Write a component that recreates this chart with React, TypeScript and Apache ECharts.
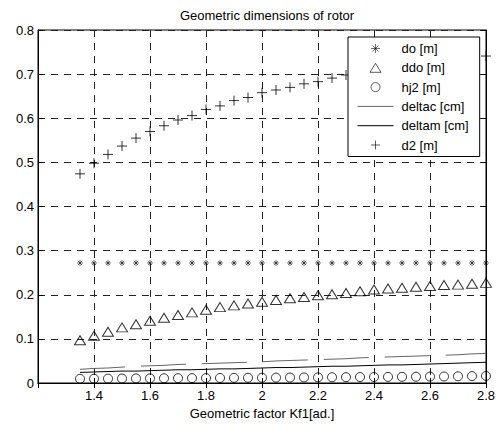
import React, { useEffect, useRef } from "react";
import * as echarts from "echarts";

// Geometric factor Kf1 [ad.] at each computed point
const kf1 = [
  1.35, 1.4, 1.45, 1.5, 1.55, 1.6, 1.65, 1.7, 1.75, 1.8,
  1.85, 1.9, 1.95, 2.0, 2.05, 2.1, 2.15, 2.2, 2.25, 2.3,
  2.35, 2.4, 2.45, 2.5, 2.55, 2.6, 2.65, 2.7, 2.75, 2.8,
];

const doM = [
  0.272, 0.272, 0.272, 0.272, 0.272, 0.272, 0.272, 0.272, 0.272, 0.272,
  0.272, 0.272, 0.272, 0.272, 0.272, 0.272, 0.272, 0.272, 0.272, 0.272,
  0.272, 0.272, 0.272, 0.272, 0.272, 0.272, 0.272, 0.272, 0.272, 0.272,
];

const ddoM = [
  0.097, 0.107, 0.116, 0.126, 0.133, 0.141, 0.148, 0.154, 0.16, 0.166,
  0.172, 0.176, 0.18, 0.184, 0.188, 0.192, 0.195, 0.199, 0.201, 0.204,
  0.208, 0.212, 0.214, 0.216, 0.218, 0.22, 0.222, 0.223, 0.225, 0.227,
];

const hj2M = [
  0.0095, 0.0097, 0.0099, 0.0101, 0.0103, 0.0105, 0.0107, 0.0109, 0.011, 0.0112,
  0.0114, 0.0116, 0.0118, 0.012, 0.0122, 0.0124, 0.0126, 0.0128, 0.013, 0.0132,
  0.0134, 0.0136, 0.0138, 0.014, 0.0142, 0.0145, 0.0148, 0.0152, 0.0156, 0.016,
];

const deltacCm = [
  0.031, 0.033, 0.034, 0.036, 0.038, 0.039, 0.04, 0.042, 0.043, 0.044,
  0.045, 0.046, 0.047, 0.048, 0.05, 0.051, 0.052, 0.053, 0.054, 0.055,
  0.057, 0.058, 0.059, 0.06, 0.061, 0.062, 0.063, 0.064, 0.066, 0.067,
];

const deltamCm = [
  0.024, 0.025, 0.026, 0.027, 0.027, 0.028, 0.029, 0.03, 0.03, 0.031,
  0.032, 0.032, 0.033, 0.034, 0.035, 0.035, 0.036, 0.037, 0.038, 0.038,
  0.039, 0.04, 0.041, 0.041, 0.042, 0.043, 0.044, 0.045, 0.046, 0.047,
];

const d2M = [
  0.474, 0.498, 0.518, 0.537, 0.555, 0.57, 0.583, 0.596, 0.606, 0.62,
  0.628, 0.64, 0.647, 0.658, 0.664, 0.67, 0.678, 0.683, 0.691, 0.698,
  0.704, 0.709, 0.714, 0.719, 0.723, 0.727, 0.731, 0.734, 0.738, 0.741,
];

const FONT = "Liberation Sans";
const ASTERISK = "path://M5,0L5,10M0,5L10,5M1.6,1.6L8.4,8.4M8.4,1.6L1.6,8.4";
const PLUS = "path://M5,0L5,10M0,5L10,5";
const TRIANGLE = "path://M5,0L10,8.2L0,8.2Z";

const pairs = (ys: number[]) => kf1.map((x, i) => [x, ys[i]]);

const hollow = { color: "rgba(0,0,0,0)", borderColor: "#000", borderWidth: 1 };

export default function App() {
  const ref = useRef<HTMLDivElement>(null);

  useEffect(() => {
    if (!ref.current) return;
    const chart = echarts.init(ref.current, undefined, { renderer: "svg" });

    const gridDash = { color: "#222", width: 1, type: [7, 6] as number[] };
    const xCommon = {
      type: "value" as const,
      min: 1.2,
      max: 2.8,
      interval: 0.2,
    };
    const yCommon = {
      type: "value" as const,
      min: 0,
      max: 0.8,
      interval: 0.1,
    };
    const noDot = { color: "rgba(0,0,0,0)", borderWidth: 0, opacity: 0 };
    const thinIcon = { color: "rgba(0,0,0,0)", borderColor: "#000", borderWidth: 0.8 };

    chart.setOption({
      animation: false,
      backgroundColor: "#fff",
      textStyle: { fontFamily: FONT },
      title: {
        text: "Geometric dimensions of rotor",
        left: 262,
        textAlign: "center",
        top: 4,
        textStyle: { fontFamily: FONT, fontSize: 13, fontWeight: "normal", color: "#000" },
      },
      grid: {
        left: 38,
        right: 15,
        top: 30,
        bottom: 41,
        containLabel: false,
        outerBoundsMode: "none",
        show: true,
        borderColor: "#000",
        borderWidth: 1,
        backgroundColor: "#fff",
      },
      legend: {
        orient: "vertical",
        left: 348,
        top: 37,
        padding: [5, 11, 5, 9],
        itemGap: 6.3,
        itemWidth: 36,
        itemHeight: 9,
        backgroundColor: "#fff",
        borderColor: "#000",
        borderWidth: 1,
        borderRadius: 0,
        lineStyle: { width: 1 },
        textStyle: { fontFamily: FONT, fontSize: 13, color: "#000", padding: [0, 0, 0, 3] },
        data: [
          { name: "do [m]", itemStyle: { ...thinIcon, borderWidth: 0.7 } },
          { name: "ddo [m]", itemStyle: thinIcon },
          { name: "hj2 [m]", itemStyle: thinIcon },
          { name: "deltac [cm]", itemStyle: noDot },
          { name: "deltam [cm]", itemStyle: noDot },
          { name: "d2 [m]", itemStyle: thinIcon },
        ],
      },
      xAxis: [
        {
          ...xCommon,
          position: "bottom",
          name: "Geometric factor Kf1[ad.]",
          nameLocation: "middle",
          nameGap: 22,
          nameTextStyle: { fontFamily: FONT, fontSize: 13, color: "#000" },
          axisLine: { show: true, lineStyle: { color: "#000", width: 1 } },
          axisTick: { show: true, inside: true, length: 5, lineStyle: { color: "#000" } },
          axisLabel: {
            fontFamily: FONT,
            fontSize: 13,
            color: "#000",
            margin: 6,
            formatter: (v: number) => (Math.abs(v - 1.2) < 1e-9 ? "" : String(Math.round(v * 10) / 10)),
          },
          splitLine: { show: true, lineStyle: gridDash },
        },
        {
          ...xCommon,
          position: "top",
          axisLine: { show: true, lineStyle: { color: "#000", width: 1 } },
          axisTick: { show: true, inside: true, length: 5, lineStyle: { color: "#000" } },
          axisLabel: { show: false },
          splitLine: { show: false },
        },
      ],
      yAxis: [
        {
          ...yCommon,
          position: "left",
          axisLine: { show: true, lineStyle: { color: "#000", width: 1 } },
          axisTick: { show: true, inside: true, length: 5, lineStyle: { color: "#000" } },
          axisLabel: {
            fontFamily: FONT,
            fontSize: 13,
            color: "#000",
            margin: 4,
            formatter: (v: number) => String(Math.round(v * 10) / 10),
          },
          splitLine: { show: true, lineStyle: gridDash },
        },
        {
          ...yCommon,
          position: "right",
          axisLine: { show: true, lineStyle: { color: "#000", width: 1 } },
          axisTick: { show: true, inside: true, length: 5, lineStyle: { color: "#000" } },
          axisLabel: { show: false },
          splitLine: { show: false },
        },
      ],
      series: [
        {
          name: "do [m]",
          type: "scatter",
          data: pairs(doM),
          symbol: ASTERISK,
          symbolSize: 6,
          itemStyle: { ...hollow, borderWidth: 0.7 },
        },
        {
          name: "ddo [m]",
          type: "scatter",
          data: pairs(ddoM),
          symbol: TRIANGLE,
          symbolSize: [11, 9],
          itemStyle: hollow,
        },
        {
          name: "hj2 [m]",
          type: "scatter",
          data: pairs(hj2M),
          symbol: "circle",
          symbolSize: 9,
          itemStyle: hollow,
        },
        {
          name: "deltac [cm]",
          type: "line",
          data: pairs(deltacCm),
          symbol: "none",
          showSymbol: false,
          lineStyle: { color: "#666", width: 1, type: [45, 16] },
          itemStyle: { color: "#666" },
        },
        {
          name: "deltam [cm]",
          type: "line",
          data: pairs(deltamCm),
          symbol: "none",
          showSymbol: false,
          lineStyle: { color: "#000", width: 1 },
          itemStyle: { color: "#000" },
        },
        {
          name: "d2 [m]",
          type: "scatter",
          data: pairs(d2M),
          symbol: PLUS,
          symbolSize: 10,
          itemStyle: hollow,
        },
      ],
    });

    return () => chart.dispose();
  }, []);

  return (
    <div
      ref={ref}
      style={{ position: "absolute", left: 0, top: 0, width: 501, height: 424 }}
    />
  );
}
